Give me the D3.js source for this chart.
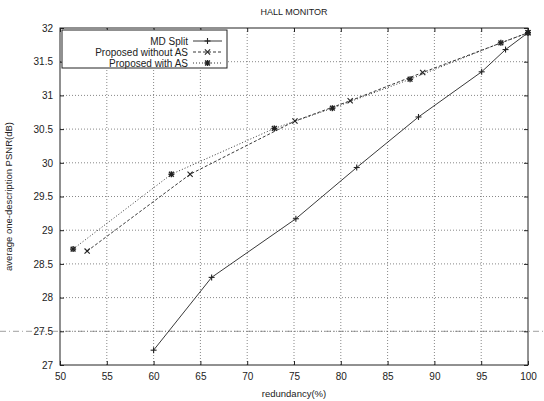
<!DOCTYPE html>
<html>
<head>
<meta charset="utf-8">
<script src="https://cdn.jsdelivr.net/npm/d3@7"></script>
<style>
  body { margin: 0; background: #fff; }
  svg { font-family: "Liberation Sans", Arial, sans-serif; }
</style>
</head>
<body>
<div id="chart"></div>
<script>
const width = 544;
const height = 401;
const margin = { top: 28, right: 16, bottom: 36, left: 60 };

// data
const xTicks = [50, 55, 60, 65, 70, 75, 80, 85, 90, 95, 100];
const yTicks = [27, 27.5, 28, 28.5, 29, 29.5, 30, 30.5, 31, 31.5, 32];

const mdX = [60, 66.2, 75.2, 81.7, 88.3, 95.05, 97.6, 100];
const mdY = [27.22, 28.3, 29.17, 29.93, 30.68, 31.35, 31.68, 31.93];

const withoutX = [52.9, 63.9, 75.1, 81.0, 88.75, 100];
const withoutY = [28.69, 29.83, 30.62, 30.92, 31.34, 31.93];

const withX = [51.4, 61.9, 72.9, 79.1, 87.4, 97.1, 100];
const withY = [28.72, 29.83, 30.51, 30.81, 31.24, 31.78, 31.93];

const series = [
  { name: "MD Split", xs: mdX, ys: mdY, dash: null, marker: "plus" },
  { name: "Proposed without AS", xs: withoutX, ys: withoutY, dash: "3,2", marker: "cross" },
  { name: "Proposed with AS", xs: withX, ys: withY, dash: "1,2", marker: "star" },
];

const svg = d3.select("#chart").append("svg").attr("width", width).attr("height", height);

const x = d3.scaleLinear().domain([50, 100]).range([margin.left, width - margin.right]);
const y = d3.scaleLinear().domain([27, 32]).range([height - margin.bottom, margin.top]);

const ink = "#222";

// grid
svg.append("g")
  .selectAll("line.gx")
  .data(xTicks.slice(1, -1))
  .join("line")
  .attr("x1", (d) => x(d)).attr("x2", (d) => x(d))
  .attr("y1", y(27)).attr("y2", y(32))
  .attr("stroke", "#555").attr("stroke-width", 0.7).attr("stroke-dasharray", "1,2");
svg.append("g")
  .selectAll("line.gy")
  .data(yTicks.slice(1, -1))
  .join("line")
  .attr("x1", x(50)).attr("x2", x(100))
  .attr("y1", (d) => y(d)).attr("y2", (d) => y(d))
  .attr("stroke", "#555").attr("stroke-width", 0.7).attr("stroke-dasharray", "1,2");

// scan streak across the page at 27.5
svg.append("line")
  .attr("x1", 0).attr("x2", width)
  .attr("y1", y(27.5)).attr("y2", y(27.5))
  .attr("stroke", "#777").attr("stroke-width", 0.7).attr("stroke-dasharray", "6,3,1,3");

// axes with inward ticks
const fmt = (d) => String(d);
svg.append("g")
  .attr("transform", `translate(0,${y(27)})`)
  .call(d3.axisBottom(x).tickValues(xTicks).tickSize(-4).tickPadding(8).tickFormat(fmt))
  .call((g) => g.select(".domain").remove());
svg.append("g")
  .attr("transform", `translate(0,${y(32)})`)
  .call(d3.axisTop(x).tickValues(xTicks).tickSize(-4).tickFormat(""))
  .call((g) => g.select(".domain").remove());
svg.append("g")
  .attr("transform", `translate(${x(50)},0)`)
  .call(d3.axisLeft(y).tickValues(yTicks).tickSize(-4).tickPadding(7).tickFormat(fmt))
  .call((g) => g.select(".domain").remove());
svg.append("g")
  .attr("transform", `translate(${x(100)},0)`)
  .call(d3.axisRight(y).tickValues(yTicks).tickSize(-4).tickFormat(""))
  .call((g) => g.select(".domain").remove());

svg.selectAll(".tick text").attr("font-size", 10).attr("fill", ink)
  .attr("font-family", "'Liberation Sans', Arial, sans-serif");
svg.selectAll(".tick line").attr("stroke", ink);

svg.append("rect")
  .attr("x", x(50)).attr("y", y(32))
  .attr("width", x(100) - x(50)).attr("height", y(27) - y(32))
  .attr("fill", "none").attr("stroke", ink).attr("stroke-width", 1);

// markers
function drawMarker(g, type, cx, cy) {
  const s = 3;
  if (type === "plus" || type === "star") {
    g.append("line").attr("x1", cx - s).attr("x2", cx + s).attr("y1", cy).attr("y2", cy);
    g.append("line").attr("x1", cx).attr("x2", cx).attr("y1", cy - s).attr("y2", cy + s);
  }
  if (type === "cross" || type === "star") {
    const t = type === "star" ? 2.4 : 2.6;
    g.append("line").attr("x1", cx - t).attr("x2", cx + t).attr("y1", cy - t).attr("y2", cy + t);
    g.append("line").attr("x1", cx - t).attr("x2", cx + t).attr("y1", cy + t).attr("y2", cy - t);
  }
}

const line = d3.line().x((d) => x(d[0])).y((d) => y(d[1]));

series.forEach((s) => {
  const pts = s.xs.map((v, i) => [v, s.ys[i]]);
  svg.append("path")
    .datum(pts)
    .attr("d", line)
    .attr("fill", "none")
    .attr("stroke", ink)
    .attr("stroke-width", 0.9)
    .attr("stroke-dasharray", s.dash);
  const mg = svg.append("g").attr("stroke", ink).attr("stroke-width", s.marker === "star" ? 1.4 : 1.1);
  pts.forEach((p) => drawMarker(mg, s.marker, x(p[0]), y(p[1])));
});

// legend
const legend = svg.append("g");
legend.append("rect")
  .attr("x", 62).attr("y", 30).attr("width", 165).attr("height", 38)
  .attr("fill", "#fff").attr("stroke", ink).attr("stroke-width", 1);
series.forEach((s, i) => {
  const ly = 41 + i * 11;
  legend.append("text")
    .attr("x", 188).attr("y", ly + 3.5)
    .attr("text-anchor", "end")
    .attr("font-size", 10)
    .attr("fill", ink)
    .text(s.name);
  legend.append("line")
    .attr("x1", 193).attr("x2", 222).attr("y1", ly).attr("y2", ly)
    .attr("stroke", ink).attr("stroke-width", 0.9).attr("stroke-dasharray", s.dash);
  const mg = legend.append("g").attr("stroke", ink).attr("stroke-width", s.marker === "star" ? 1.4 : 1.1);
  drawMarker(mg, s.marker, 207.5, ly);
});

// title and labels
svg.append("text")
  .attr("x", 294).attr("y", 15)
  .attr("text-anchor", "middle").attr("font-size", 9).attr("fill", ink)
  .text("HALL MONITOR");
svg.append("text")
  .attr("x", 294).attr("y", 397)
  .attr("text-anchor", "middle").attr("font-size", 9.5).attr("fill", ink)
  .text("redundancy(%)");
svg.append("text")
  .attr("transform", `translate(12,${(y(27) + y(32)) / 2}) rotate(-90)`)
  .attr("text-anchor", "middle").attr("font-size", 9.5).attr("fill", ink)
  .text("average one-description PSNR(dB)");
</script>
</body>
</html>
